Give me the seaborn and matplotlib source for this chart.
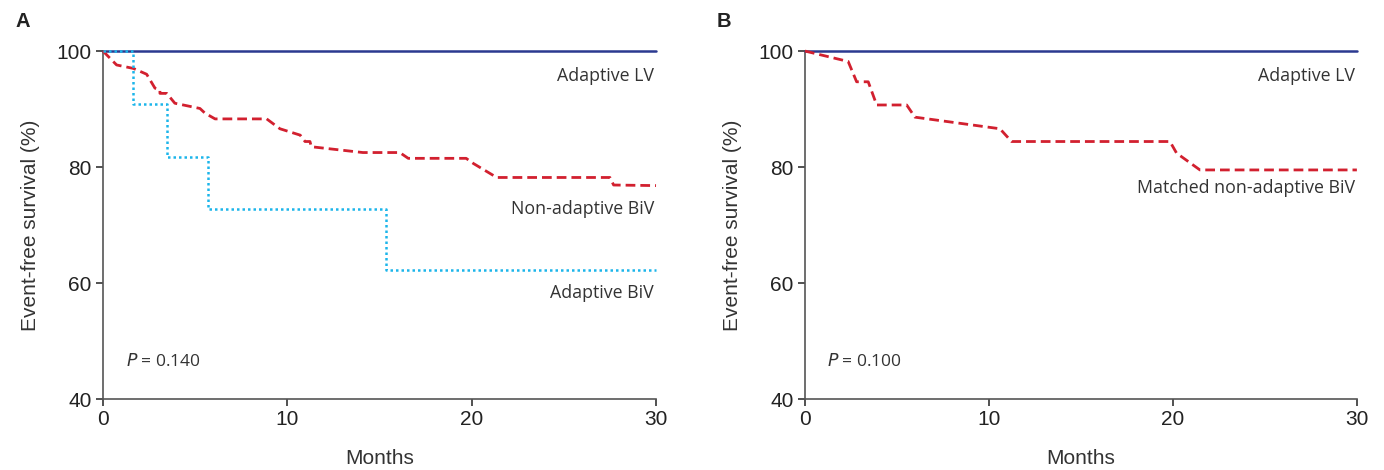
import pandas as pd
import seaborn as sns
import matplotlib.pyplot as plt

# panel A - non-adaptive BiV (red dashed)
a_red_x = [0, 0.74, 1.65, 2.37, 2.82, 3.09, 3.09, 3.46, 3.9, 5.26, 5.53, 6.08, 8.88, 9.6, 10.7,
           10.96, 11.23, 11.3, 14.1, 16.1, 16.56, 19.7, 20.1, 21.36, 27.5, 27.7, 30]
a_red_y = [100, 97.6, 97.0, 96.0, 93.6, 93.3, 92.7, 92.7, 91.0, 90.1, 89.3, 88.3, 88.3, 86.6, 85.5,
           84.4, 84.4, 83.5, 82.5, 82.5, 81.5, 81.5, 80.6, 78.2, 78.2, 76.9, 76.8]
# panel A - adaptive BiV (cyan dotted, steps)
a_blue_x = [0, 1.65, 3.49, 5.7, 15.36, 30]
a_blue_y = [100, 90.9, 81.8, 72.7, 62.3, 62.3]
# panel B - matched non-adaptive BiV
b_red_x = [0, 2.35, 2.81, 3.44, 3.9, 5.53, 5.98, 10.6, 11.23, 19.84, 20.2, 21.47, 30]
b_red_y = [100, 98.2, 94.7, 94.7, 90.7, 90.7, 88.6, 86.6, 84.4, 84.4, 82.4, 79.5, 79.5]
# adaptive LV
lv_x = [0, 30]
lv_y = [100, 100]

navy = "#2b3990"
red = "#d2202f"
cyan = "#1cb5ea"
txt = "#333333"

sns.set_style("ticks")
plt.rcParams['font.family'] = ['Liberation Sans', 'DejaVu Sans']

fig = plt.figure(figsize=(13.84, 4.70), dpi=100)
axA = fig.add_axes([0.0744, 0.151, 0.3996, 0.7404])
axB = fig.add_axes([0.5816, 0.151, 0.3988, 0.7404])

def style(ax):
    ax.set_xlim(0, 30)
    ax.set_ylim(40, 100)
    ax.set_xticks([0, 10, 20, 30])
    ax.set_yticks([40, 60, 80, 100])
    for s in ['top', 'right']:
        ax.spines[s].set_visible(False)
    for s in ['left', 'bottom']:
        ax.spines[s].set_color("#555555")
        ax.spines[s].set_linewidth(1.2)
    ax.tick_params(axis='both', direction='out', length=5, width=1.2, color="#333333",
                   labelsize=15, labelcolor="#222222", pad=3)
    ax.set_xlabel("Months", fontsize=15, color="#333333", labelpad=14)
    ax.set_ylabel("Event-free survival (%)", fontsize=15, color="#333333", labelpad=12)

def draw(ax, x, y, color, **kw):
    df = pd.DataFrame({'x': x, 'y': y})
    sns.lineplot(data=df, x='x', y='y', ax=ax, estimator=None, sort=False,
                 color=color, clip_on=False, **kw)

ann = dict(fontsize=12.8, color=txt, family=['Open Sans', 'DejaVu Sans'], ha='right', va='center')
pfont = dict(fontsize=12.5, color=txt, family=['Open Sans', 'DejaVu Sans'], ha='left', va='center')

# panel A
draw(axA, lv_x, lv_y, navy, linewidth=1.8, zorder=3)
draw(axA, a_red_x, a_red_y, red, linewidth=2.0, dashes=(3.5, 1.8), zorder=4)
draw(axA, a_blue_x, a_blue_y, cyan, linewidth=1.8, dashes=(1, 1.2),
     drawstyle='steps-post', zorder=5)
style(axA)
axA.text(29.9, 95.7, "Adaptive LV", **ann)
axA.text(29.9, 72.8, "Non-adaptive BiV", **ann)
axA.text(29.9, 58.2, "Adaptive BiV", **ann)
axA.text(1.25, 46.5, "$\\it{P}$ = 0.140", **pfont)

# panel B
draw(axB, lv_x, lv_y, navy, linewidth=1.8, zorder=3)
draw(axB, b_red_x, b_red_y, red, linewidth=2.0, dashes=(3.5, 1.8), zorder=4)
style(axB)
axB.text(29.9, 95.7, "Adaptive LV", **ann)
axB.text(29.9, 76.3, "Matched non-adaptive BiV", **ann)
axB.text(1.2, 46.5, "$\\it{P}$ = 0.100", **pfont)

fig.text(0.011, 0.955, "A", fontsize=14.5, fontweight='bold', color="#222222", va='center')
fig.text(0.518, 0.955, "B", fontsize=14.5, fontweight='bold', color="#222222", va='center')

fig.savefig("out.png", dpi=100)
